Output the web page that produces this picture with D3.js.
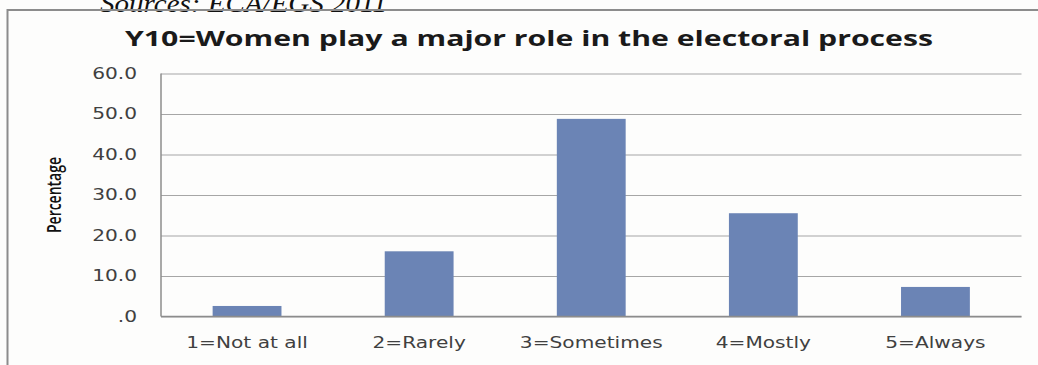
<!DOCTYPE html>
<html>
<head>
<meta charset="utf-8">
<script src="https://cdn.jsdelivr.net/npm/d3@7"></script>
<style>
  body { margin: 0; background: #fdfdfc; }
  svg { display: block; }
</style>
</head>
<body>
<div id="chart"></div>
<script>
// values
var categories = ["1=Not at all", "2=Rarely", "3=Sometimes", "4=Mostly", "5=Always"];
var percentages = [2.6, 16.1, 48.8, 25.5, 7.3];
var yTicks = [0, 10, 20, 30, 40, 50, 60];
var titleText = "Y10=Women play a major role in the electoral process";
var sourceText = "Sources: ECA/EGS 2011";

var width = 1038, height = 365;
var margin = {top: 73.5, left: 161, right: 16.5, bottom: 48.5};
// the original picture is stretched sideways, so the labels are too
var stretch = 1.3;

var svg = d3.select("#chart")
    .append("svg")
    .attr("width", width)
    .attr("height", height);

svg.append("rect").attr("width", width).attr("height", height).attr("fill", "#fdfdfc");

// caption above the frame, cut off by the top edge
svg.append("text")
    .attr("x", 100).attr("y", 12)
    .attr("textLength", 287)
    .attr("lengthAdjust", "spacingAndGlyphs")
    .style("font-family", "'Liberation Serif', serif")
    .style("font-style", "italic")
    .style("font-size", "26px")
    .attr("fill", "#111")
    .text(sourceText);

// chart frame
svg.append("path")
    .attr("d", "M7.5," + height + " V10 H" + width)
    .attr("fill", "none")
    .attr("stroke", "#8c8c8c")
    .attr("stroke-width", 2);

var xScale = d3.scaleBand()
    .domain(categories)
    .range([margin.left, width - margin.right])
    .paddingInner(0.6)
    .paddingOuter(0.3);

var yScale = d3.scaleLinear()
    .domain([0, 60])
    .range([height - margin.bottom, margin.top]);

// gridlines and y labels
var yAxis = d3.axisLeft(yScale)
    .tickValues(yTicks)
    .tickSize(-(width - margin.left - margin.right))
    .tickPadding(24 / stretch)
    .tickFormat(function (d) { return d === 0 ? ".0" : d.toFixed(1); });

var gy = svg.append("g")
    .attr("transform", "translate(" + margin.left + ",0)")
    .call(yAxis);
gy.select(".domain").remove();
gy.selectAll(".tick line").attr("stroke", "#a6a6a6").attr("stroke-width", 1.2);
gy.selectAll(".tick text")
    .attr("transform", "scale(" + stretch + ",1)")
    .attr("fill", "#404040")
    .style("font-family", "'DejaVu Sans', sans-serif")
    .style("font-size", "15.5px");

// bars
svg.append("g").selectAll("rect")
    .data(percentages)
    .join("rect")
    .attr("x", function (d, i) { return xScale(categories[i]); })
    .attr("width", xScale.bandwidth())
    .attr("y", function (d) { return yScale(d); })
    .attr("height", function (d) { return yScale(0) - yScale(d); })
    .attr("fill", "#6b84b5");

// axis lines
svg.append("line")
    .attr("x1", margin.left).attr("x2", margin.left)
    .attr("y1", yScale(60)).attr("y2", yScale(0))
    .attr("stroke", "#8c8c8c").attr("stroke-width", 1.5);
svg.append("line")
    .attr("x1", margin.left).attr("x2", width - margin.right)
    .attr("y1", yScale(0)).attr("y2", yScale(0))
    .attr("stroke", "#8c8c8c").attr("stroke-width", 1.5);

// x labels
var xAxis = d3.axisBottom(xScale).tickSize(0).tickPadding(20);
var gx = svg.append("g")
    .attr("transform", "translate(0," + yScale(0) + ")")
    .call(xAxis);
gx.select(".domain").remove();
gx.selectAll(".tick text")
    .attr("transform", "scale(" + stretch + ",1)")
    .attr("fill", "#404040")
    .style("font-family", "'DejaVu Sans', sans-serif")
    .style("font-size", "15.5px");

// title
svg.append("text")
    .attr("x", 529).attr("y", 46)
    .attr("text-anchor", "middle")
    .attr("textLength", 808)
    .attr("lengthAdjust", "spacingAndGlyphs")
    .style("font-family", "'Open Sans', sans-serif")
    .style("font-weight", "bold")
    .style("font-size", "21px")
    .attr("fill", "#1a1a1a")
    .text(titleText);

// y axis title
svg.append("text")
    .attr("transform", "translate(61,195) rotate(-90)")
    .attr("text-anchor", "middle")
    .attr("textLength", 76)
    .attr("lengthAdjust", "spacingAndGlyphs")
    .style("font-family", "'Open Sans', sans-serif")
    .style("font-weight", "600")
    .style("font-size", "19px")
    .attr("fill", "#111")
    .text("Percentage");
</script>
</body>
</html>
